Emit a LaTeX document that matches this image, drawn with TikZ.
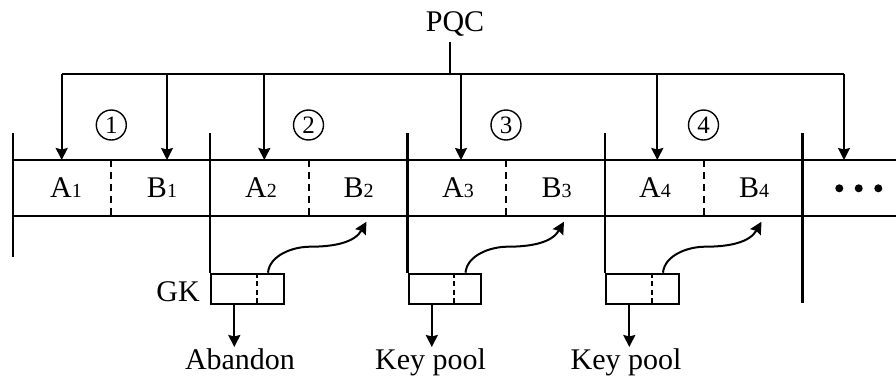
\documentclass[tikz,border=0pt]{standalone}
\usepackage{fontspec}
\setmainfont{Liberation Serif}
\usetikzlibrary{arrows.meta}
\begin{document}
\begin{tikzpicture}[x=1pt,y=-1pt,
 line/.style={line width=2pt},
 sep/.style={line width=2.4pt},
 arr/.style={line width=2pt,-{Stealth[length=12pt,width=12pt,inset=1.5pt]}},
 lbl/.style={font=\fontsize{30}{36}\selectfont, inner sep=0pt, anchor=base},
 num/.style={draw,circle,line width=1.4pt,minimum size=30pt,inner sep=0pt,font=\fontsize{25}{25}\selectfont},
 div/.style={line width=2pt,dash pattern=on 7pt off 5pt},
 boxdiv/.style={line width=2pt,dash pattern=on 5pt off 3.5pt},
 gkbox/.style={draw,line width=2pt,minimum width=72.5pt,minimum height=30.6pt,inner sep=0pt,anchor=north west}
]
\newcommand{\sbs}[1]{{\fontsize{20}{20}\selectfont #1}}
\useasboundingbox (0,0) rectangle (896,375);

% tape lines
\coordinate (tl) at (12.7,160);
\coordinate (tr) at (896,160);
\coordinate (bl) at (12.7,216);
\coordinate (br) at (896,216);
\draw[line] (tl) -- (tr);
\draw[line] (bl) -- (br);

% left edge
\coordinate (s0t) at (12.7,133.3);
\coordinate (s0b) at (12.7,256.7);
\draw[sep] (s0t) -- (s0b);

% separators with GK boxes
\foreach \i/\x in {1/210,2/407.5,3/605}{
  \coordinate (s\i t) at (\x,133.3);
  \node[gkbox] (box\i) at (\x,272.7) {};
  \draw[sep] (s\i t) -- (box\i.north west);
  \coordinate (bd\i t) at ([xshift=46.5pt]box\i.north west);
  \coordinate (bd\i b) at ([xshift=46.5pt]box\i.south west);
  \draw[boxdiv] (bd\i t) -- (bd\i b);
  \coordinate (cs\i) at ([xshift=58pt]box\i.north west);
  \coordinate (cm\i) at ([xshift=100pt,yshift=26pt]box\i.north west);
  \coordinate (ce\i) at ([xshift=156.5pt,yshift=51pt]box\i.north west);
  \draw[arr] (cs\i) to[out=85,in=180,looseness=0.9] (cm\i) to[out=0,in=240] (ce\i);
  \coordinate (da\i) at ([xshift=24.3pt]box\i.south west);
  \coordinate (db\i) at ([xshift=24.3pt,yshift=-41.7pt]box\i.south west);
  \draw[arr] (da\i) -- (db\i);
}
\coordinate (s4t) at (802.3,133.3);
\coordinate (s4b) at (802.3,303.3);
\draw[sep] (s4t) -- (s4b);

% dashed dividers and circled numbers
\foreach \i/\x in {1/111.3,2/308.5,3/506,4/703.5}{
  \coordinate (dv\i t) at (\x,160);
  \coordinate (dv\i b) at (\x,216);
  \draw[div] (dv\i t) -- (dv\i b);
  \node[num] (n\i) at (\x,125) {\i};
}

% cell labels
\node[lbl] (a1) at (66,197) {A\sbs{1}};
\node[lbl] (b1) at (162,197) {B\sbs{1}};
\node[lbl] (a2) at (261,197) {A\sbs{2}};
\node[lbl] (b2) at (358.5,197) {B\sbs{2}};
\node[lbl] (a3) at (458,197) {A\sbs{3}};
\node[lbl] (b3) at (556.5,197) {B\sbs{3}};
\node[lbl] (a4) at (655,197) {A\sbs{4}};
\node[lbl] (b4) at (754,197) {B\sbs{4}};

% dots
\foreach \i/\x in {1/839.3,2/858.7,3/878.3}{
  \fill (\x,188.3) circle (4pt);
}

% PQC distribution
\node[lbl] (pqc) at (455,31.5) {PQC};
\coordinate (pqcb) at (450,42);
\coordinate (hub) at (450,74);
\coordinate (hl) at (61.7,74);
\coordinate (hr) at (844,74);
\draw[line] (pqcb) -- (hub);
\draw[line] (hl) -- (hr);
\foreach \i/\x in {1/61.7,2/167,3/264.3,4/461,5/657.3,6/844}{
  \coordinate (ta\i) at (\x,74);
  \coordinate (tb\i) at (\x,160);
  \draw[arr] (ta\i) -- (tb\i);
}

% bottom labels
\node[lbl,anchor=base east] (gk) at (200,301.5) {GK};
\node[lbl] (ab) at (240,369) {Abandon};
\node[lbl] (kp1) at (430.5,369) {Key pool};
\node[lbl] (kp2) at (626,369) {Key pool};
\end{tikzpicture}
\end{document}
